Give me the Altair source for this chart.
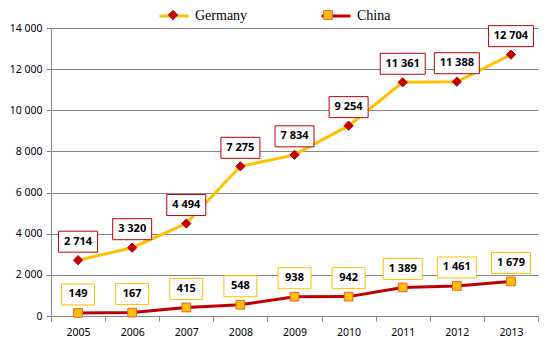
import altair as alt
import pandas as pd

years = [2005, 2006, 2007, 2008, 2009, 2010, 2011, 2012, 2013]
germany = [2714, 3320, 4494, 7275, 7834, 9254, 11361, 11388, 12704]
china = [149, 167, 415, 548, 938, 942, 1389, 1461, 1679]
series_names = ["Germany", "China"]
y_ticks = [0, 2000, 4000, 6000, 8000, 10000, 12000, 14000]

GOLD = "#FFC000"
RED = "#C00000"
SQ_EDGE = "#E5603A"
GRID = "#868686"
TXT = "#000000"
FONT = "Noto Sans"

rows = []
for name, vals in zip(series_names, [germany, china]):
    for yr, v in zip(years, vals):
        lab = f"{v:,}".replace(",", " ")
        rows.append({"year": yr, "series": name, "series2": name, "value": v,
                     "label": lab, "nchar": len(lab)})
df = pd.DataFrame(rows)

base = alt.Chart(df)

x = alt.X("year:O",
          scale=alt.Scale(type="band", paddingInner=0, paddingOuter=0),
          axis=alt.Axis(title=None, labelAngle=0, tickBand="extent",
                        domainColor=GRID, tickColor=GRID, tickSize=5,
                        labelFont=FONT, labelFontSize=10.5,
                        labelColor=TXT, labelPadding=6))
y = alt.Y("value:Q",
          scale=alt.Scale(domain=[0, 14000], nice=False),
          axis=alt.Axis(title=None, values=y_ticks, grid=True, gridColor=GRID,
                        domainColor=GRID, tickColor=GRID, tickSize=5,
                        labelFont=FONT, labelFontSize=10.5,
                        labelColor=TXT, labelPadding=4,
                        labelExpr="replace(format(datum.value, ','), ',', ' ')"))

leg_common = dict(title=None, orient="none", legendX=107, legendY=-28,
                  direction="horizontal", columns=2, symbolSize=841,
                  labelFont="Liberation Serif", labelFontSize=14,
                  labelColor=TXT, labelOffset=5, columnPadding=67, padding=0)

legA = alt.Legend(symbolType="stroke", symbolStrokeWidth=3, **leg_common)
legB = alt.Legend(symbolStrokeWidth=1, labelOpacity=0, **leg_common)

# line legend: data-driven (sorted) domain; marker legend: explicit domain,
# so the two legends stay separate and overlay each other
line = base.mark_line(strokeWidth=3).encode(
    x=x, y=y,
    color=alt.Color("series:N", sort=series_names,
                    scale=alt.Scale(range=[GOLD, RED]), legend=legA))

diamond = "M0,-0.32L0.32,0L0,0.32L-0.32,0Z"
square = "M-0.3,-0.3L0.3,-0.3L0.3,0.3L-0.3,0.3Z"

pts = base.mark_point(filled=True, size=841, opacity=1, strokeWidth=1).encode(
    x=x, y=y,
    fill=alt.Fill("series2:N",
                  scale=alt.Scale(domain=series_names, range=[RED, GOLD]), legend=legB),
    shape=alt.Shape("series2:N",
                    scale=alt.Scale(domain=series_names, range=[diamond, square]), legend=legB),
    stroke=alt.Stroke("series2:N",
                      scale=alt.Scale(domain=series_names, range=[RED, SQ_EDGE]), legend=legB))


def box(w):
    h = w / 2
    return f"M{-h},-29L{h},-29L{h},-8L{-h},-8Z"


box_w = {3: 33, 5: 39, 6: 45}
box_layers = []
for name, col in [("Germany", RED), ("China", GOLD)]:
    for n, w in box_w.items():
        if ((df.series == name) & (df.nchar == n)).any():
            box_layers.append(
                base.transform_filter(f"datum.series == '{name}' && datum.nchar == {n}")
                .mark_point(shape=box(w), size=4, filled=True, fill="white",
                            stroke=col, strokeWidth=1, opacity=1)
                .encode(x=x, y=y))

texts = base.mark_text(dy=-18.5, font=FONT, fontSize=11, fontWeight="bold",
                       color=TXT).encode(x=x, y=y, text="label:N")

chart = alt.layer(line, pts, *box_layers, texts).properties(
    width=487, height=288,
    padding={"left": 43, "top": 20, "right": 8, "bottom": 35},
    autosize="none",
).configure_view(stroke=None)

chart.save("out.html", embed_options={"renderer": "svg", "actions": False})
